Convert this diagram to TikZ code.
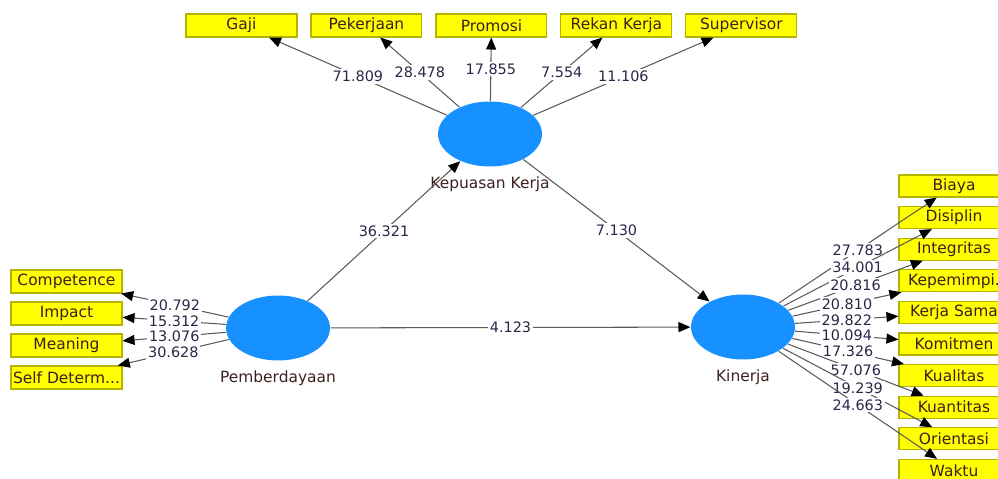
\documentclass[tikz,border=0pt]{standalone}
\usepackage{fontspec}
\setmainfont{DejaVu Sans}
\usetikzlibrary{arrows.meta, positioning, shapes.geometric}
\definecolor{cblue}{HTML}{1791FF}
\definecolor{cyellow}{HTML}{FFFF00}
\definecolor{cyline}{HTML}{B4B400}
\definecolor{ctext}{HTML}{3D1F1F}
\definecolor{cnum}{HTML}{2E2548}
\definecolor{cgrey}{HTML}{5A5A5A}
\tikzset{
  every picture/.style={line width=0.6pt},
  latent/.style={ellipse, fill=cblue, minimum width=2.08cm, minimum height=1.3cm, inner sep=0pt},
  ind/.style={draw=cyline, fill=cyellow, text=ctext, minimum width=2.22cm, minimum height=0.46cm, inner sep=0pt, font=\fontsize{8.8}{10}\selectfont},
  indr/.style={ind, minimum width=2.2cm, minimum height=0.44cm},
  arrow/.style={-{Triangle[length=2.4mm, width=2mm, color=black]}, draw=cgrey},
  val/.style={fill=white, inner sep=1pt, text=cnum, font=\fontsize{8.2}{9}\selectfont},
  lvname/.style={text=ctext, inner sep=0pt, font=\fontsize{8.8}{10}\selectfont},
}
\begin{document}
\begin{tikzpicture}[x=0.02cm, y=-0.02cm]
  \useasboundingbox (0,0) rectangle (998,479);
  \clip (0,0) rectangle (998,479);
  % constructs
  \node[latent] (kep) at (490,134) {};
  \node[latent] (pem) at (278,328) {};
  \node[latent] (kin) at (743,327) {};
  \node[lvname, below=0.19cm of kep] {Kepuasan Kerja};
  \node[lvname, below=0.19cm of pem] {Pemberdayaan};
  \node[lvname, below=0.19cm of kin] {Kinerja};
  % indicators
  \node[ind] (gaji) at (241.5,25.5) {Gaji};
  \node[ind, right=0.259cm of gaji] (pekerjaan) {Pekerjaan};
  \node[ind, right=0.259cm of pekerjaan] (promosi) {Promosi};
  \node[ind, right=0.259cm of promosi] (rekan) {Rekan Kerja};
  \node[ind, right=0.259cm of rekan] (supervisor) {Supervisor};
  \node[ind] (competence) at (66.5,281.5) {Competence};
  \node[ind, below=0.159cm of competence] (impact) {Impact};
  \node[ind, below=0.159cm of impact] (meaning) {Meaning};
  \node[ind, below=0.159cm of meaning] (self) {Self Determ...};
  \node[indr] (biaya) at (954,186) {Biaya};
  \node[indr, below=0.171cm of biaya] (disiplin) {Disiplin};
  \node[indr, below=0.171cm of disiplin] (integritas) {Integritas};
  \node[indr, below=0.171cm of integritas] (kepemimpinan) {Kepemimpi.};
  \node[indr, below=0.171cm of kepemimpinan] (kerjasama) {Kerja Sama};
  \node[indr, below=0.171cm of kerjasama] (komitmen) {Komitmen};
  \node[indr, below=0.171cm of komitmen] (kualitas) {Kualitas};
  \node[indr, below=0.171cm of kualitas] (kuantitas) {Kuantitas};
  \node[indr, below=0.171cm of kuantitas] (orientasi) {Orientasi};
  \node[indr, below=0.171cm of orientasi] (waktu) {Waktu};
  % paths
  \draw[arrow] (pem) -- node[val] {36.321} (kep);
  \draw[arrow] (kep) -- node[val] {7.130} (kin);
  \draw[arrow] (pem) -- node[val] {4.123} (kin);
  % loadings
  \foreach \b/\v in {gaji/71.809, pekerjaan/28.478, promosi/17.855, rekan/7.554, supervisor/11.106}
    \draw[arrow] (kep) -- node[val] {\v} (\b);
  \foreach \b/\v in {competence/20.792, impact/15.312, meaning/13.076, self/30.628}
    \draw[arrow] (pem) -- node[val] {\v} (\b);
  \foreach \b/\v in {biaya/27.783, disiplin/34.001, integritas/20.816, kepemimpinan/20.810, kerjasama/29.822,
                     komitmen/10.094, kualitas/17.326, kuantitas/57.076, orientasi/19.239, waktu/24.663}
    \draw[arrow] (kin) -- node[val] {\v} (\b);
\end{tikzpicture}
\end{document}
